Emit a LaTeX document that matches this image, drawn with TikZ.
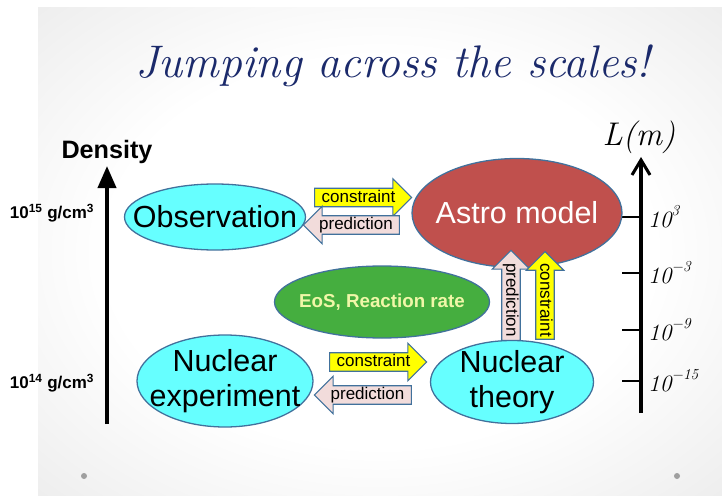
\documentclass[tikz,border=0pt]{standalone}
\usepackage{fontspec}
\newfontfamily\arial{Liberation Sans}
\usepackage{tikz}
\usetikzlibrary{positioning,arrows.meta,shapes.geometric,shapes.arrows}
\definecolor{edgeblue}{HTML}{41719C}
\definecolor{skyfill}{HTML}{66FFFF}
\definecolor{astrofill}{HTML}{C0504D}
\definecolor{eosfill}{HTML}{45AE3F}
\definecolor{eostext}{HTML}{F0F7A8}
\definecolor{consyellow}{HTML}{FFFF00}
\definecolor{predpink}{HTML}{F2DCDB}
\definecolor{titleblue}{HTML}{1B2A6B}
\pgfdeclareradialshading{slidebg}{\pgfpoint{0bp}{0bp}}{color(0bp)=(white); color(20bp)=(white); color(36bp)=(gray!14); color(50bp)=(gray!22)}
\newcommand{\lexp}[1]{\raisebox{0.5em}{\fontsize{13}{13}\selectfont#1}}

\begin{document}
\begin{tikzpicture}[x=0.3mm, y=-0.3mm,
  blob/.style={ellipse, draw=edgeblue, line width=1.1pt, inner sep=0pt},
  bigtxt/.style={font=\arial\fontsize{26}{30}\selectfont, align=center},
  blk/.style={single arrow, draw=edgeblue, line width=1pt, inner xsep=1.5pt, inner ysep=0.4pt,
              text height=11pt, text depth=3pt, single arrow head extend=2.85mm,
              font=\arial\fontsize{14.5}{15}\selectfont},
  cons/.style={blk, fill=consyellow},
  pred/.style={blk, fill=predpink, shape border rotate=180},
  hand/.style={font=\itshape\fontsize{20}{20}\selectfont},
  axisline/.style={line width=3.4pt},
  scaletick/.style={line width=2.2pt},
]
\useasboundingbox (0,0) rectangle (722,496);

% --- slide background ---
\fill[white] (0,0) rectangle (722,496);
\shade[shading=slidebg] (38,8) rectangle (722,496);
\fill[gray!75] (84,476) circle (3);
\fill[gray!75] (677,476) circle (3);

\node[font=\itshape\fontsize{39}{42}\selectfont, text=titleblue] (title) at (393,66) {Jumping across the scales!};

% --- left: density axis ---
\coordinate (dbot) at (107,424);
\coordinate (dtop) at (107,166);
\draw[axisline, -{Triangle[length=6.6mm, width=5.4mm]}] (dbot) -- (dtop);
\node[font=\arial\bfseries\fontsize{21.5}{22}\selectfont] (dens) at (107,152) {Density};
\node[font=\arial\bfseries\fontsize{14.5}{15}\selectfont] (rho15) at (52,213) {10\textsuperscript{15} g/cm\textsuperscript{3}};
\node[font=\arial\bfseries\fontsize{14.5}{15}\selectfont] (rho14) at (52,383) {10\textsuperscript{14} g/cm\textsuperscript{3}};

% --- right: length axis ---
\coordinate (lbot) at (641,413);
\coordinate (ltop) at (641,157);
\draw[line width=2.6pt, -{Straight Barb[length=4.5mm, width=5.4mm]}] (lbot) -- (ltop);
\node[font=\itshape\fontsize{28}{30}\selectfont] (lm) at (639,137) {L(m)};
\foreach \y/\e in {217/3, 273/{−3}, 330/{−9}, 381/{−15}} {
  \draw[scaletick] (622,\y) -- (641,\y);
  \node[hand, anchor=west] at (644,\y) {10\lexp{\e}};
}

% --- ellipses ---
\node[blob, fill=skyfill, minimum width=54.3mm, minimum height=19.8mm] (obs) at (215,217) {};
\node[bigtxt] at (obs) {Observation};
\node[blob, fill=astrofill, minimum width=63mm, minimum height=32.7mm] (astro) at (517,213) {};
\node[bigtxt, text=white] at (astro) {Astro model};
\node[blob, fill=eosfill, minimum width=64.5mm, minimum height=21.6mm] (eos) at (382,302) {};
\node[font=\arial\bfseries\fontsize{16}{18}\selectfont, text=eostext] at (eos) {EoS, Reaction rate};
\node[blob, fill=skyfill, minimum width=52.8mm, minimum height=27.6mm] (nexp) at (225,381) {};
\node[bigtxt] at (nexp) {Nuclear\\experiment};
\node[blob, fill=skyfill, minimum width=48.9mm, minimum height=24.9mm] (nth) at (512,382) {};
\node[bigtxt] at (nth) {Nuclear\\theory};

% --- block arrows ---
\node[cons, minimum height=29.1mm] (c1) at (358.5,197.5) {constraint};
\node[pred, minimum height=28.8mm] (p1) at (356,225) {prediction};
\node[cons, minimum height=29.1mm] (c2) at (373.5,362) {constraint};
\node[pred, minimum height=29.1mm] (p2) at (367.5,395) {prediction};
\node[pred, rotate=-90, minimum height=27mm] (p3) at (511,300) {prediction};
\node[cons, rotate=-90, shape border rotate=180, minimum height=25.8mm] (c3) at (545,300) {constraint};
\end{tikzpicture}
\end{document}
